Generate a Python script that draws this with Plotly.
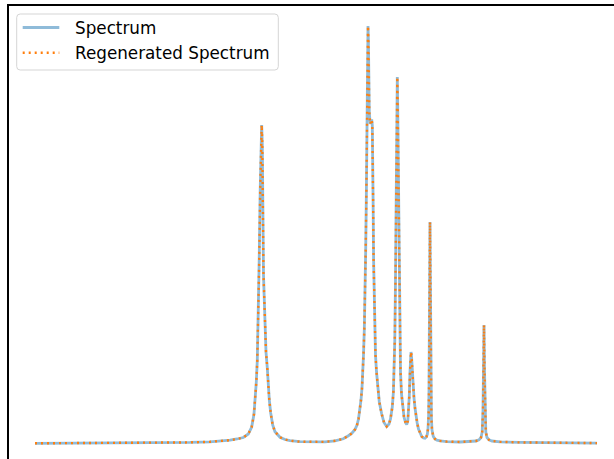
import plotly.graph_objects as go

# ---- data ----
channel = [0, 45, 85, 125, 155, 175, 187, 195, 202, 208.3, 213.3, 216.7, 219, 220.3, 221.3, 222.3,
           223.2, 224.2, 225.2, 226.0, 226.7, 227.3, 227.7, 228.0, 228.5, 229.3, 230.0, 231.0, 232.3,
           233.3, 234.3, 235.7, 237.7, 240, 245, 250, 255, 265, 278.3, 290, 300, 308.3, 313, 316.7,
           320, 322, 323.5, 325, 326, 327, 327.7, 328.5, 329.3, 330, 330.7, 331.3, 331.8, 332.3,
           332.7, 333.0, 333.4, 333.8, 334.3, 335.2, 336.0, 336.7, 337.3, 337.7, 338.1, 338.6,
           339.2, 339.8, 340.5, 341.5, 342.5, 344.3, 346.7, 349, 351.7, 354, 355.5, 357.3, 358.4,
           359.2, 359.8, 360.4, 360.9, 361.4, 361.9, 362.3, 362.7, 363.2, 363.7, 364.2, 364.8,
           365.5, 366.5, 367.5, 369, 370.5, 371.7, 372.8, 373.6, 374.3, 375, 375.6, 376, 376.5,
           377.2, 378, 379, 380, 381, 382.2, 383.5, 385, 386.7, 388.5, 390, 391.3, 392.3, 393,
           393.6, 394, 394.3, 394.6, 395, 395.4, 395.7, 396.0, 396.4, 397, 398.3, 400, 402, 405,
           412, 425, 435, 441, 444, 446, 447.2, 448.0, 448.5, 449, 449.5, 450, 450.8, 452, 454,
           457, 465, 485, 515, 562]

spectrum = [0.0, 0.1, 0.3, 0.5, 0.9, 1.5, 2.3, 3.1, 4.3, 5.8, 9.3, 16.3, 29.3, 43.3, 61.3, 83.3,
            118.3, 183.3, 253.3, 298.3, 318.3, 298.3, 253.3, 203.3, 168.3, 143.3, 113.3, 91.3, 75.3,
            58.3, 43.3, 30.3, 18.3, 11.6, 6.0, 3.8, 2.6, 1.6, 1.1, 1.4, 2.5, 4.5, 7.3, 9.8,
            13.8, 18.3, 24.3, 33.3, 43.3, 55.3, 68.3, 88.3, 113.3, 143.3, 193.3, 243.3, 303.3, 363.3,
            403.3, 417.3, 403.3, 363.3, 331.3, 319.3, 322.3, 323.8, 318.3, 293.3, 243.3, 183.3,
            143.3, 113.3, 88.3, 71.3, 58.3, 41.3, 29.3, 20.8, 16.8, 19.3, 24.3, 36.3, 51.3,
            73.3, 103.3, 153.3, 213.3, 283.3, 338.3, 366.3, 338.3, 283.3, 213.3, 153.3, 103.3,
            71.3, 49.3, 36.3, 26.3, 20.8, 18.8, 22.3, 31.3, 47.3, 71.3, 87.3, 91.3, 87.3,
            73.3, 57.3, 45.3, 35.3, 27.3, 20.3, 14.3, 9.8, 6.8, 5.3, 5.0, 6.3, 8.8, 14.3,
            27.3, 53.3, 103.3, 163.3, 221.3, 163.3, 103.3, 53.3, 25.3, 13.3, 6.8, 4.3, 3.1, 2.4,
            1.7, 1.3, 1.5, 2.3, 3.5, 5.8, 11.3, 33.3, 73.3, 118.3, 73.3, 33.3, 11.3, 5.8, 3.4,
            2.3, 1.5, 0.9, 0.5, 0.2]

# the regenerated spectrum coincides with the measured one everywhere in the picture
regenerated = list(spectrum)

series_names = ["Spectrum", "Regenerated Spectrum"]

# ---- figure ----
W, H = 614, 459
ML, MT = 9, 6
PW, PH = W - ML, H - MT

BLUE = "rgba(31,119,180,0.5)"
ORANGE = "#ff7f0e"
FONT = "DejaVu Sans"

fig = go.Figure()
fig.add_trace(go.Scatter(x=channel, y=spectrum, mode="lines", name=series_names[0],
                         line=dict(color=BLUE, width=2.8), showlegend=False))
fig.add_trace(go.Scatter(x=channel, y=regenerated, mode="lines", name=series_names[1],
                         line=dict(color=ORANGE, width=2.4, dash="2px,4px"), showlegend=False))


def px_x(p):
    return (p - ML) / PW


def px_y(p):
    return (H - p) / PH


# legend drawn by hand to match the frame style
lx0, lx1, ly0, ly1, r = 16.7, 278.3, 14, 70, 3.5
path = (f"M {px_x(lx0 + r)},{px_y(ly0)} L {px_x(lx1 - r)},{px_y(ly0)} "
        f"Q {px_x(lx1)},{px_y(ly0)} {px_x(lx1)},{px_y(ly0 + r)} "
        f"L {px_x(lx1)},{px_y(ly1 - r)} Q {px_x(lx1)},{px_y(ly1)} {px_x(lx1 - r)},{px_y(ly1)} "
        f"L {px_x(lx0 + r)},{px_y(ly1)} Q {px_x(lx0)},{px_y(ly1)} {px_x(lx0)},{px_y(ly1 - r)} "
        f"L {px_x(lx0)},{px_y(ly0 + r)} Q {px_x(lx0)},{px_y(ly0)} {px_x(lx0 + r)},{px_y(ly0)} Z")
shapes = [
    dict(type="path", xref="paper", yref="paper", path=path,
         line=dict(color="#d5d5d5", width=1), fillcolor="rgba(255,255,255,0.8)"),
    dict(type="line", xref="paper", yref="paper", x0=px_x(22.7), x1=px_x(59.3),
         y0=px_y(27.5), y1=px_y(27.5), line=dict(color=BLUE, width=2.8)),
    dict(type="line", xref="paper", yref="paper", x0=px_x(22.7), x1=px_x(59.3),
         y0=px_y(52.7), y1=px_y(52.7), line=dict(color=ORANGE, width=2.4, dash="2px,4px")),
]
annotations = [
    dict(x=px_x(72.5), y=px_y(28), xref="paper", yref="paper", text=series_names[0],
         showarrow=False, xanchor="left", yanchor="middle",
         font=dict(family=FONT, size=16.8, color="#000000")),
    dict(x=px_x(72.5), y=px_y(53), xref="paper", yref="paper", text=series_names[1],
         showarrow=False, xanchor="left", yanchor="middle",
         font=dict(family=FONT, size=16.8, color="#000000")),
]

fig.update_layout(
    width=W, height=H,
    margin=dict(l=ML, r=0, t=MT, b=0, pad=0),
    paper_bgcolor="white", plot_bgcolor="white",
    shapes=shapes, annotations=annotations,
    font=dict(family=FONT),
    xaxis=dict(range=[ML - 35, W - 35], side="top", showline=True, linecolor="#000000",
               linewidth=1.5, showgrid=False, zeroline=False, showticklabels=False, ticks=""),
    yaxis=dict(range=[443.3 - H, 443.3 - MT], showline=True, linecolor="#000000",
               linewidth=1.5, showgrid=False, zeroline=False, showticklabels=False, ticks=""),
)

# remove the browser's default page margin so the figure sits at the window origin
fig.write_html("out.html",
               config={"displayModeBar": False},
               post_script="document.body.style.margin='0';document.body.style.overflow='hidden';")
